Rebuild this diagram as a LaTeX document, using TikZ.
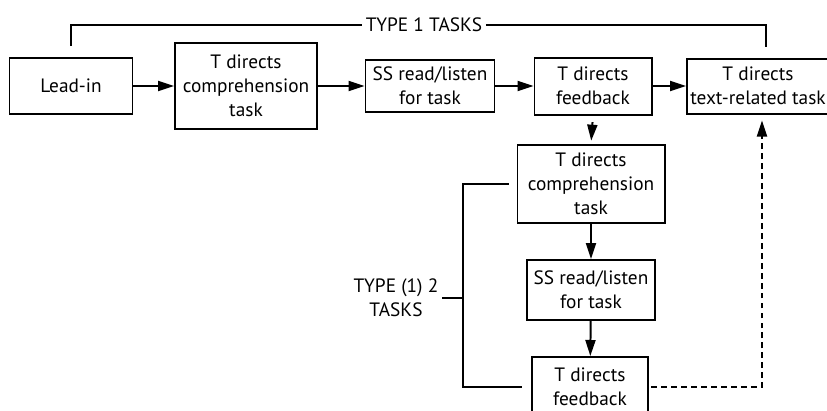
\documentclass[tikz,border=0pt]{standalone}
\usepackage{fontspec}
\setmainfont{PT Sans}
\usetikzlibrary{positioning, arrows.meta, calc}
\tikzstyle{box}     = [draw, line width=1.7pt, align=center, inner sep=2pt]
\tikzstyle{arrow}   = [-{Triangle[length=4.8mm, width=3mm]}, line width=1.7pt]
\tikzstyle{dasharr} = [arrow, dash pattern=on 5pt off 3.5pt]
\tikzstyle{bracket} = [line width=1.7pt]
\tikzset{boxdim/.style 2 args={minimum width=#1*0.03cm, minimum height=#2*0.03cm}}

\begin{document}
\begin{tikzpicture}[x=0.03cm, y=-0.03cm, font=\fontsize{16.5}{20.5}\selectfont]
% 1 unit = 1 px of the 827x410 frame, y downwards
\useasboundingbox (0,0) rectangle (827,410);
% top row
\node[box, boxdim={123}{56}] (lead)    at (71,86)  {Lead-in};
\node[box, boxdim={142}{86}] (comp)    at (246,86) {T directs\\comprehension\\task};
\node[box, boxdim={129}{52}] (read)    at (430,86) {SS read/listen\\for task};
\node[box, boxdim={117}{57}] (fback)   at (593,86) {T directs\\feedback};
\node[box, boxdim={142}{55}] (textrel) at (758,86) {T directs\\text-related task};
% column
\node[box, boxdim={147}{78}] (comp2)  at (591,184) {T directs\\comprehension\\task};
\node[box, boxdim={128}{60}] (read2)  at (591,290) {SS read/listen\\for task};
\node[box, boxdim={116}{60}] (fback2) at (590,387) {T directs\\feedback};
% labels
\node[inner sep=3pt] (type1) at (424,25) {TYPE 1 TASKS};
\node[inner sep=3pt, align=center] (type2) at (396,298) {TYPE (1) 2\\TASKS};
\coordinate (brk) at (463,0);
% main flow
\draw[arrow] (lead) -- (comp);
\draw[arrow] (comp) -- (read);
\draw[arrow] (read) -- (fback);
\draw[arrow] (fback) -- (textrel);
\draw[arrow] (comp2) -- (read2);
\draw[arrow] (read2) -- (fback2);
% dashed links
\draw[dasharr, shorten <=0.2cm, shorten >=0.1cm] (fback.south) -- (comp2.north);
\draw[dasharr, shorten <=2pt, shorten >=0.18cm] (fback2.east) -| ($(textrel.south)+(4,0)$);
% brackets
\draw[bracket] ($(lead.north)+(0,-11)$) |- (type1.west);
\draw[bracket] (type1.east) -| ($(textrel.north)+(8,-11)$);
\draw[bracket] ($(comp2.west)+(-8,0)$) -- (comp2.west -| brk) -- (fback2.west -| brk) -- ($(fback2.west)+(-9,0)$);
\draw[bracket] (type2.east) -- (type2.east -| brk);
\end{tikzpicture}
\end{document}
